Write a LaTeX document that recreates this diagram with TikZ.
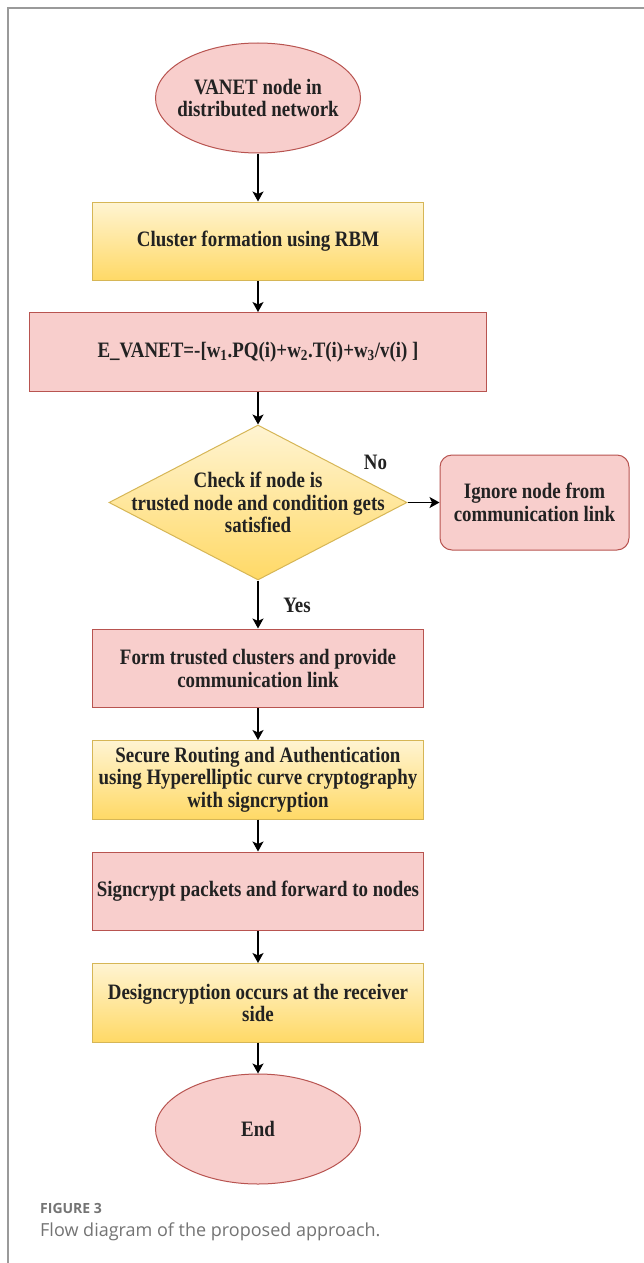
\documentclass[tikz,border=0pt]{standalone}
\usepackage{fontspec}
\usetikzlibrary{arrows.meta,positioning,calc,shapes.geometric}
\newfontfamily\flowfont{Liberation Serif}[FakeStretch=0.86]
\newfontfamily\capfont{Open Sans}
\definecolor{PinkFill}{HTML}{F8CECC}
\definecolor{PinkLine}{HTML}{B85450}
\definecolor{YelTop}{HTML}{FFF4D2}
\definecolor{YelBot}{HTML}{FFD966}
\definecolor{YelLine}{HTML}{D6B656}
\definecolor{Ink}{HTML}{222222}
\definecolor{Frame}{HTML}{9A9A9A}
\definecolor{CapGrey}{HTML}{747474}

\begin{document}
\begin{tikzpicture}[
  x=1pt,y=1pt,
  node distance=32pt,
  base/.style={align=center,text=Ink,font=\flowfont\bfseries\fontsize{22}{22.5}\selectfont},
  pinkbox/.style={base,rectangle,draw=PinkLine,fill=PinkFill,line width=1pt,minimum width=331pt,minimum height=78.5pt},
  yelbox/.style={base,rectangle,draw=YelLine,top color=YelTop,bottom color=YelBot,line width=1pt,minimum width=331pt,minimum height=78.5pt},
  term/.style={base,ellipse,draw=PinkLine,fill=PinkFill,line width=1pt,minimum width=205pt,minimum height=110pt,inner sep=0pt},
  decision/.style={base,diamond,draw=YelLine,top color=YelTop,bottom color=YelBot,line width=1pt,minimum width=298pt,minimum height=155pt,inner sep=0pt},
  lbl/.style={base,inner sep=0pt},
  capt/.style={anchor=base west,inner sep=0pt,text=CapGrey},
  arr/.style={-{Stealth[length=10pt,width=11pt,inset=2.5pt]},line width=1.5pt,draw=black}
]
  \useasboundingbox (0,0) rectangle (644,-1263);
  \fill[white] (0,0) rectangle (644,-1263);
  \draw[Frame,line width=1.5pt] (8,-1263) -- (8,-8) -- (644,-8);

  \node[term,label={[base]center:{VANET node in\\distributed network}}] (start) at (258,-98) {};
  \node[yelbox,below=48pt of start] (cluster) {Cluster formation using RBM};
  \node[pinkbox,below=31pt of cluster,minimum width=457pt] (energy) {E\_VANET=-[w\textsubscript{1}.PQ(i)+w\textsubscript{2}.T(i)+w\textsubscript{3}/v(i) ]};
  \node[decision,below=33pt of energy,label={[base]center:{Check if node is\\trusted node and condition gets\\satisfied}}] (check) {};
  \node[pinkbox,rounded corners=12pt,right=of check,minimum width=189pt,minimum height=95pt] (ignore) {Ignore node from\\communication link};
  \node[pinkbox,below=48pt of check] (trusted) {Form trusted clusters and provide\\communication link};
  \node[yelbox,below=of trusted] (secure) {Secure Routing and Authentication\\using Hyperelliptic curve cryptography\\with signcryption};
  \node[pinkbox,below=of secure] (signcrypt) {Signcrypt packets and forward to nodes};
  \node[yelbox,below=of signcrypt] (design) {Designcryption occurs at the receiver\\side};
  \node[term,below=31pt of design] (finish) {End};

  \node[lbl] (no) at ($(check.east)+(-32,40)$) {No};
  \node[lbl] (yes) at ($(check.south)+(39,-25)$) {Yes};

  \draw[arr] (start) -- (cluster);
  \draw[arr] (cluster) -- (energy);
  \draw[arr] (energy) -- (check);
  \draw[arr] (check) -- (ignore);
  \draw[arr] (check) -- (trusted);
  \draw[arr] (trusted) -- (secure);
  \draw[arr] (secure) -- (signcrypt);
  \draw[arr] (signcrypt) -- (design);
  \draw[arr] (design) -- (finish);

  \node[capt,font=\capfont\bfseries\fontsize{14}{16}\selectfont] (figno) at (40,-1213) {FIGURE 3};
  \node[capt,font=\capfont\fontsize{18}{21}\selectfont] (caption) at (40,-1236) {Flow diagram of the proposed approach.};
\end{tikzpicture}
\end{document}
